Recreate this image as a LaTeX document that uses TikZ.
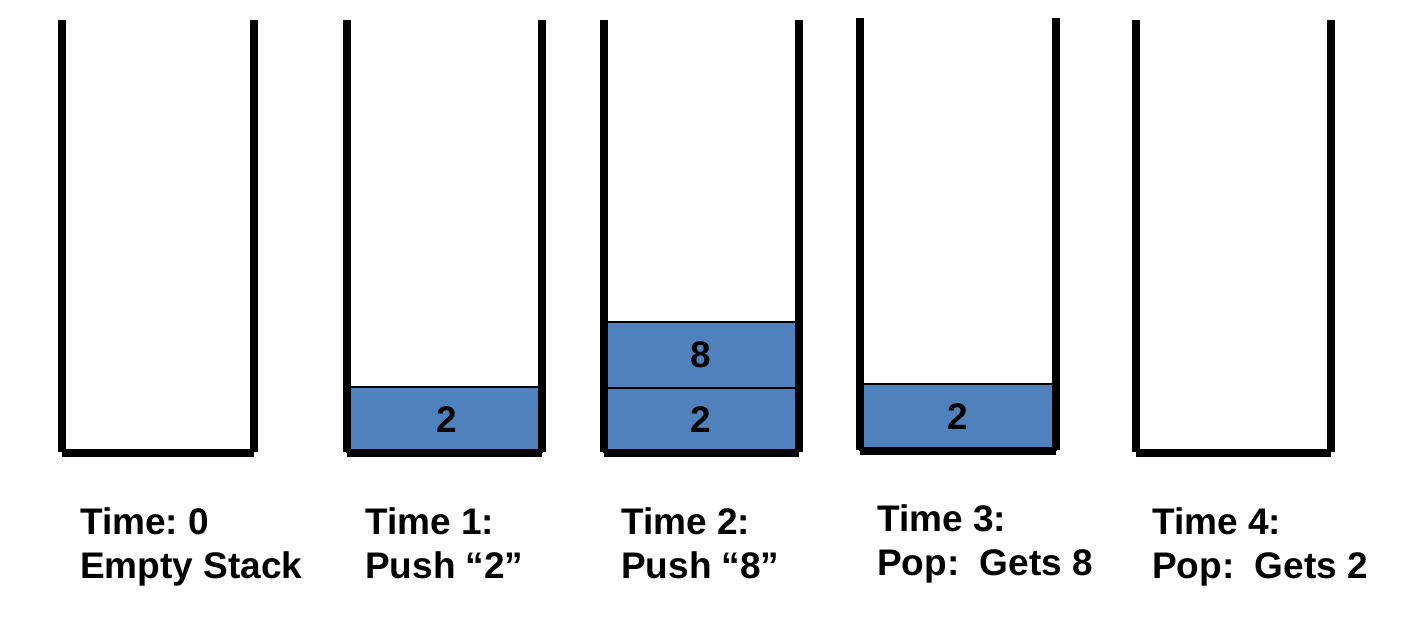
\documentclass[tikz,border=0pt]{standalone}
\usepackage{fontspec}
\setmainfont{Liberation Sans}
\definecolor{cellblue}{HTML}{4F81BD}
\begin{document}
\frenchspacing
\begin{tikzpicture}[x=1pt,y=-1pt,
  wall/.style={line width=8pt,line cap=butt,black},
  cell/.style={draw=black,line width=1.3pt,fill=cellblue,inner sep=0pt,
    font=\fontsize{37}{40}\selectfont\bfseries},
  lbl/.style={anchor=base west,inner sep=0pt,
    font=\fontsize{37}{44}\selectfont\bfseries}]
\useasboundingbox[fill=white] (0,0) rectangle (1406,620);
% cells
\node[cell,minimum width=195pt,minimum height=65pt] (c1) at (444.5,419.5) {\hspace*{4pt}2};
\node[cell,minimum width=195pt,minimum height=64pt] (c2a) at (701,420) {2};
\node[cell,minimum width=195pt,minimum height=66pt] (c2b) at (701,355) {8};
\node[cell,minimum width=196pt,minimum height=66pt] (c3) at (958,417) {2};
% stacks
\draw[wall] (62,20) -- (62,452);
\draw[wall] (254,20) -- (254,452);
\draw[wall] (62,453) -- (254,453);
\draw[wall] (347,20) -- (347,452);
\draw[wall] (542,20) -- (542,452);
\draw[wall] (347,453) -- (542,453);
\draw[wall] (603.5,20) -- (603.5,452);
\draw[wall] (798.5,20) -- (798.5,452);
\draw[wall] (603.5,453) -- (798.5,453);
\draw[wall] (860,18) -- (860,450);
\draw[wall] (1056,18) -- (1056,450);
\draw[wall] (860,451) -- (1056,451);
\draw[wall] (1136,20) -- (1136,452);
\draw[wall] (1331,20) -- (1331,452);
\draw[wall] (1136,453) -- (1331,453);
% labels
\node[lbl] (t0a) at (80,534) {Time: 0};
\node[lbl] (t0b) at (80,578) {Empty Stack};
\node[lbl] (t1a) at (365,534) {Time 1:};
\node[lbl] (t1b) at (365,578) {Push “2”};
\node[lbl] (t2a) at (621,534) {Time 2:};
\node[lbl] (t2b) at (621,578) {Push “8”};
\node[lbl] (t3a) at (877,531) {Time 3:};
\node[lbl] (t3b) at (877,575) {Pop:\ \ Gets 8};
\node[lbl] (t4a) at (1152,534) {Time 4:};
\node[lbl] (t4b) at (1152,578) {Pop:\ \ Gets 2};
\end{tikzpicture}
\end{document}
